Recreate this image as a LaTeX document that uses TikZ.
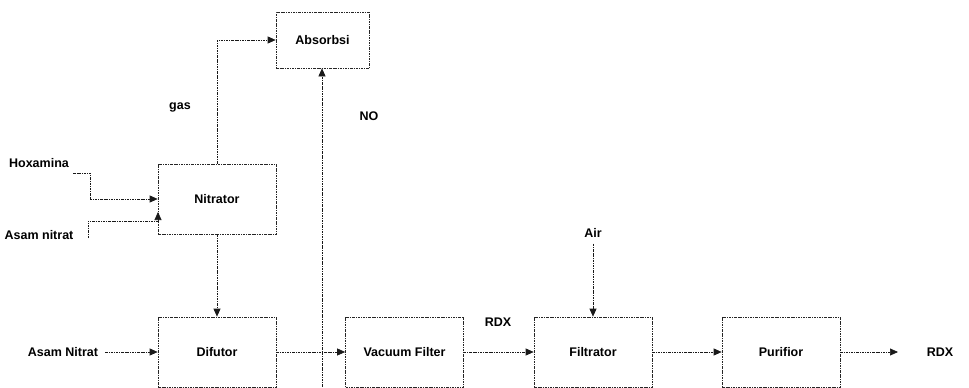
\documentclass[tikz,border=0pt]{standalone}
\usepackage{fontspec}
\setmainfont{Liberation Sans}
\usetikzlibrary{arrows.meta,positioning}

\begin{document}
\begin{tikzpicture}[
  x=1pt, y=-1pt,
  font=\fontsize{12.5}{14}\selectfont\bfseries,
  >={Triangle[length=8pt,width=7pt]},
  flow/.style={dash pattern=on 2.5pt off 1pt on 0.8pt off 1pt, line width=0.7pt, black!90},
  unit/.style={draw=black!85, dash pattern=on 2.5pt off 1pt on 0.8pt off 1pt, line width=0.7pt,
               minimum width=118pt, minimum height=70pt, inner sep=0pt},
  lbl/.style={inner sep=1pt},
]
\useasboundingbox (0,0) rectangle (969,388);

% ===== units =====
\node[unit,minimum width=93pt,minimum height=56pt] (absorbsi) at (322.5,40) {Absorbsi};
\node[unit] (nitrator) at (217,199) {Nitrator};
\node[unit] (dilutor) at (217,352) {Difutor};
\node[unit] (vacuum) at (404.5,352) {Vacuum Filter};
\node[unit] (filtrator) at (593,352) {Filtrator};
\node[unit] (purifior) at (781,352) {Purifior};

% ===== stream labels =====
\node[lbl] (hexa) at (39,163) {Hoxamina};
\node[lbl] (asam1) at (39,235) {Asam nitrat};
\node[lbl] (asam2) at (63,352) {Asam Nitrat};
\node[lbl] (gas) at (180,107) {gas};
\node[lbl] (no) at (369,116) {NO};
\node[lbl] (rdx1) at (498,322) {RDX};
\node[lbl] (air) at (593,233) {Air};
\node[lbl] (rdx2) at (940,352) {RDX};

% ===== free ends =====
\coordinate (hexaend) at (73,173);
\coordinate (asamend) at (88,238);
\coordinate (noend) at (322,392);
\coordinate (rdxend) at (898,352);

% ===== connectors =====
\draw[flow,->] (nitrator.north) |- (absorbsi.west);
\draw[flow,->] (noend) -- (absorbsi.south -| noend);
\draw[flow,->] (hexaend) -| (90,199) -- (nitrator.west);
\draw[flow,->] (asamend) |- (158,221) -- (158,212);
\draw[flow,->] (nitrator.south) -- (dilutor.north);
\draw[flow,->] (asam2.east) ++(6,0) -- (dilutor.west);
\draw[flow,->] (dilutor.east) -- (vacuum.west);
\draw[flow,->] (vacuum.east) -- (filtrator.west);
\draw[flow,->] (air.south) ++(0,5) -- (filtrator.north);
\draw[flow,->] (filtrator.east) -- (purifior.west);
\draw[flow,->] (purifior.east) -- (rdxend);

\end{tikzpicture}
\end{document}
